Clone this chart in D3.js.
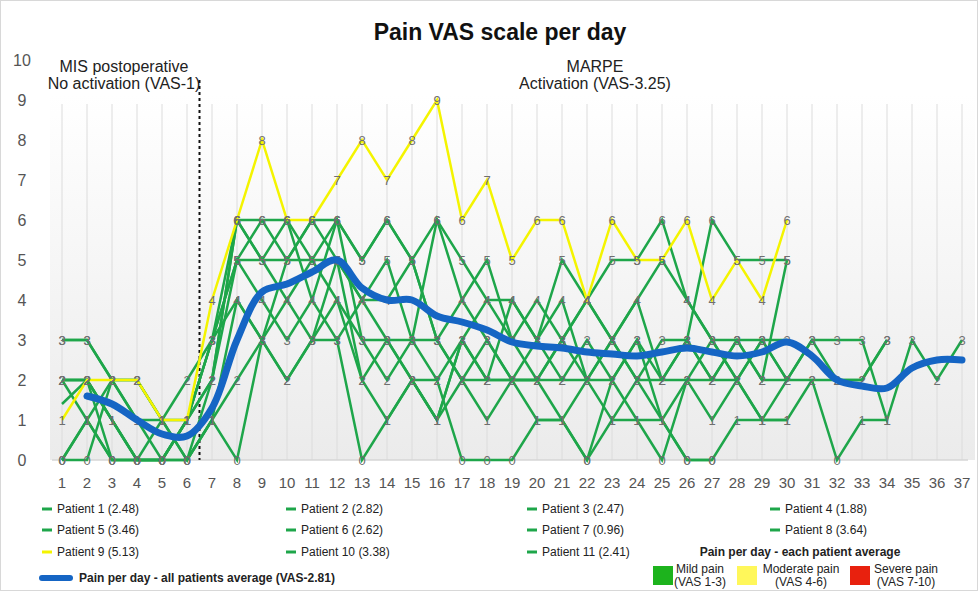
<!DOCTYPE html>
<html lang="en">
  <head>
    <meta charset="utf-8">
    <title>Pain VAS scale per day</title>
    <style>
      body { margin: 0; background: #fff; }
      svg { display: block; font-family: "Liberation Sans", Arial, sans-serif; }
      .tick-y, .tick-x { fill: #555; }
      .pt-label { fill: #6f6f6f; font-size: 13px; text-anchor: middle; }
      .legend text { font-family: "Liberation Sans Narrow", "Liberation Sans", sans-serif; font-size: 12px; fill: #222; }
    </style>
  </head>
  <body>
    <svg id="chart"></svg>
    <script src="https://cdn.jsdelivr.net/npm/d3@7"></script>
    <script>
      // ---- data ----
      var days = d3.range(1, 38);

      var patientNames = ["Patient 1 (2.48)", "Patient 2 (2.82)", "Patient 3  (2.47)", "Patient 4 (1.88)",
                          "Patient 5 (3.46)", "Patient 6 (2.62)", "Patient 7 (0.96)", "Patient 8 (3.64)",
                          "Patient 9 (5.13)", "Patient 10 (3.38)", "Patient 11 (2.41)"];

      var p1  = [2,2,1,0,0,1,3,5,6,6,5,4,3,2,3,2,3,4,3,2,1,0,2,3,2,3,2,3,2,2];
      var p2  = [3,3,2,2,1,0,2,6,5,5,6,5,4,3,2,1,2,3,2,2,3,4,5,5,6,4,3,2,3,2,3,3,3,1,3,2,3];
      var p3  = [2,1,0,0,1,2,3,4,3,4,5,6,5,6,5,3,2,1,2,3,2,3,2,1,0,2,3,2,1,2,2,0,1,1];
      var p4  = [0,1,2,1,0,0,1,2,3,2,3,4,2,1,2,1,3,2,2,1,1,2,1,2,1,0,0,1,1,1,2,2,2,3];
      var p5  = [2,2,0,0,0,1,3,6,5,4,3,5,4,5,3,6,4,3,2,2,3,4,3,2,3,3,6,5,5,5];
      var p6  = [1.4,2,1,0,0,1,2,5,4,3,4,6,3,3,3,3,2,2,4,3,4,2,3,4,2,2,2,3,3,3];
      var p7  = [0,1,0,0,0,0,1,0,3,2,3,3,0,1,2,2,0,0,0,1,1,0,1,1,1,0,0];
      var p8  = [2,2,1,0,0,1,2,6,6,5,6,6,5,6,5,6,5,4,4,3,5,4,3,4,5,4,3,3,2,5];
      var p9  = [1,2,2,2,1,1,4,6,8,6,6,7,8,7,8,9,6,7,5,6,6,4,6,5,5,6,4,5,4,6];
      var p10 = [3,3,2,1,1,1,3,5,5,6,4,3,4,4,5,3,4,5,3,4,3,2,3,2,2,3,2,2,3,2,3,2,2,3];
      var p11 = [0,0,2,2,1,0,1,4,3,5,5,5,2,3,2,1,3,2,2,2,2,2,2,3,1,2,1,2,1,1];

      var patients = [p1, p2, p3, p4, p5, p6, p7, p8, p9, p10, p11];
      var patientColors = ["#1ea64a","#1ea64a","#1ea64a","#1ea64a","#1ea64a","#1ea64a",
                           "#1ea64a","#1ea64a","#f4f400","#1ea64a","#1ea64a"];

      // all patients average per day (starts day 2)
      var avgPain = [null,1.6,1.4,1.0,0.65,0.6,1.3,3.0,4.2,4.4,4.7,5.0,4.3,4.0,4.0,3.6,3.45,3.25,
                     2.95,2.85,2.8,2.7,2.65,2.6,2.7,2.8,2.7,2.6,2.7,2.95,2.6,2.0,1.85,1.8,2.3,2.5,2.5];

      var painLevels = ["Mild pain|(VAS 1-3)", "Moderate pain|(VAS 4-6)", "Severe pain|(VAS 7-10)"];
      var painColors = ["#1db31d", "#fff75a", "#e8210e"];

      // ---- layout ----
      var W = 978, H = 591;
      var svg = d3.select("#chart").attr("width", W).attr("height", H);

      var x = d3.scaleLinear().domain([1, 37]).range([62, 962]);
      var y = d3.scaleLinear().domain([0, 10]).range([460, 60]);

      var defs = svg.append("defs");
      var grad = defs.append("linearGradient").attr("id", "bg").attr("x1", 0).attr("x2", 0).attr("y1", 0).attr("y2", 1);
      grad.append("stop").attr("offset", "0%").attr("stop-color", "#ffffff");
      grad.append("stop").attr("offset", "100%").attr("stop-color", "#ebebeb");

      svg.append("rect").attr("x", 0.5).attr("y", 0.5).attr("width", W - 1).attr("height", H - 1)
        .attr("fill", "#fff").attr("stroke", "#d8d8d8");

      svg.append("rect").attr("x", 50).attr("y", 95).attr("width", 925).attr("height", 365).attr("fill", "url(#bg)");

      // vertical gridlines
      svg.append("g").selectAll("line").data(days).join("line")
        .attr("x1", d => x(d)).attr("x2", d => x(d))
        .attr("y1", y(8.9)).attr("y2", y(0))
        .attr("stroke", "#dcdcdc").attr("stroke-width", 1);

      svg.append("line").attr("x1", 52).attr("x2", 968).attr("y1", y(0)).attr("y2", y(0))
        .attr("stroke", "#d6d6d6").attr("stroke-width", 1.5);

      // y ticks
      svg.append("g").selectAll("text").data(d3.range(0, 11)).join("text")
        .attr("class", "tick-y")
        .attr("x", 22).attr("y", d => y(d) + 6)
        .attr("text-anchor", "middle").attr("font-size", 16)
        .text(d => d);

      // x ticks
      svg.append("g").selectAll("text").data(days).join("text")
        .attr("class", "tick-x")
        .attr("x", d => x(d)).attr("y", 488)
        .attr("text-anchor", "middle").attr("font-size", 15)
        .attr("font-family", "'Liberation Sans Narrow', 'Liberation Sans', sans-serif")
        .text(d => d);

      // title
      svg.append("text").attr("x", 500).attr("y", 40).attr("text-anchor", "middle")
        .attr("font-size", 23).attr("font-weight", "bold").attr("fill", "#111")
        .text("Pain VAS scale per day");

      // phase annotations
      var ann = svg.append("g").attr("font-size", 16).attr("fill", "#222").attr("text-anchor", "middle");
      ann.append("text").attr("x", 124).attr("y", 72).text("MIS postoperative");
      ann.append("text").attr("x", 124).attr("y", 89).text("No activation (VAS-1)");
      ann.append("text").attr("x", 595).attr("y", 72).text("MARPE");
      ann.append("text").attr("x", 595).attr("y", 89).text("Activation (VAS-3.25)");

      svg.append("line").attr("x1", x(6.5)).attr("x2", x(6.5)).attr("y1", 80).attr("y2", y(0))
        .attr("stroke", "#111").attr("stroke-width", 2).attr("stroke-dasharray", "3,3");

      // patient lines
      var line = d3.line()
        .defined(d => d[1] != null)
        .x(d => x(d[0])).y(d => y(d[1]));

      var order = [0,1,2,3,4,5,6,7,9,10,8];
      order.forEach(function(i) {
        var pts = patients[i].map((v, j) => [j + 1, v]);
        svg.append("path").datum(pts)
          .attr("fill", "none").attr("stroke", patientColors[i]).attr("stroke-width", 2.5)
          .attr("d", line);
      });

      // point labels
      var lab = svg.append("g");
      order.forEach(function(i) {
        patients[i].forEach(function(v, j) {
          if (v == null || v % 1 !== 0) return;
          lab.append("text").attr("class", "pt-label")
            .attr("x", x(j + 1)).attr("y", y(v) + 5).text(v);
        });
      });

      // average line
      var avgLine = d3.line()
        .defined(d => d[1] != null)
        .curve(d3.curveCatmullRom)
        .x(d => x(d[0])).y(d => y(d[1]));
      svg.append("path").datum(avgPain.map((v, j) => [j + 1, v]))
        .attr("fill", "none").attr("stroke", "#1565c4").attr("stroke-width", 7)
        .attr("stroke-linecap", "round").attr("stroke-linejoin", "round")
        .attr("d", avgLine);

      // legend
      var leg = svg.append("g").attr("class", "legend");
      var colX = [42, 286, 527, 770], rowY = [509, 530, 552];
      patientNames.forEach(function(name, i) {
        var cx = colX[i % 4], cy = rowY[Math.floor(i / 4)];
        leg.append("line").attr("x1", cx).attr("x2", cx + 10).attr("y1", cy).attr("y2", cy)
          .attr("stroke", patientColors[i]).attr("stroke-width", 3);
        leg.append("text").attr("x", cx + 15).attr("y", cy + 4).text(name);
      });

      leg.append("line").attr("x1", 42).attr("x2", 70).attr("y1", 578).attr("y2", 578)
        .attr("stroke", "#1565c4").attr("stroke-width", 6).attr("stroke-linecap", "round");
      leg.append("text").attr("x", 79).attr("y", 582).attr("font-weight", "bold").attr("font-size", 12)
        .text("Pain per day - all patients average (VAS-2.81)");

      leg.append("text").attr("x", 800).attr("y", 556).attr("text-anchor", "middle")
        .attr("font-weight", "bold").attr("font-size", 12)
        .text("Pain per day - each patient average");

      var boxX = [653, 737, 850], txtX = [700, 801, 906];
      painLevels.forEach(function(p, i) {
        leg.append("rect").attr("x", boxX[i]).attr("y", 566).attr("width", 20).attr("height", 19)
          .attr("fill", painColors[i]);
        var parts = p.split("|");
        leg.append("text").attr("x", txtX[i]).attr("y", 573)
          .attr("text-anchor", "middle").attr("font-size", 10.5).text(parts[0]);
        leg.append("text").attr("x", txtX[i]).attr("y", 586)
          .attr("text-anchor", "middle").attr("font-size", 10.5).text(parts[1]);
      });
    </script>
  </body>
</html>
